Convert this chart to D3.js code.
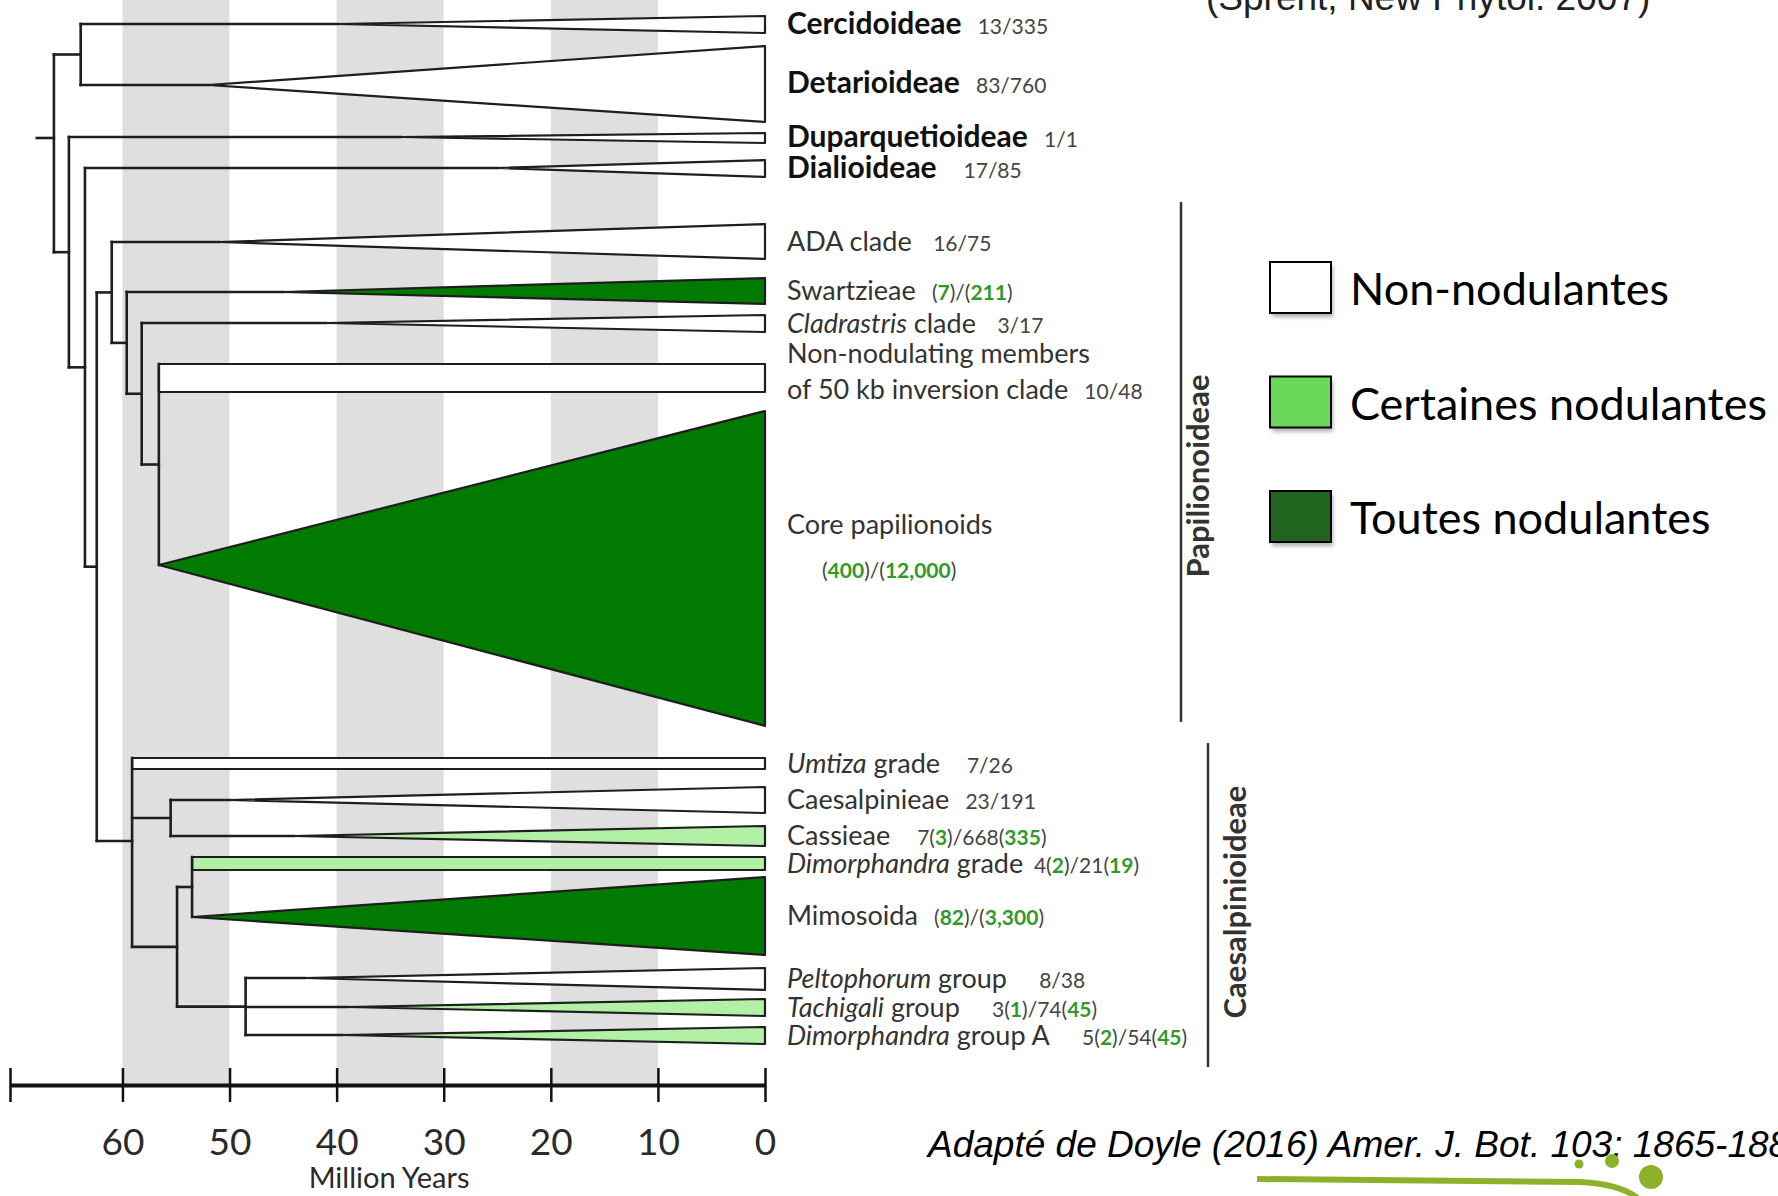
<!DOCTYPE html>
<html>
<head>
<meta charset="utf-8">
<title>Legume nodulation tree</title>
<script src="https://cdn.jsdelivr.net/npm/d3@7"></script>
<style>
  body { margin: 0; background: #fff; }
  svg { display: block; }
  text { white-space: pre; }
</style>
</head>
<body>
<script>
// --- values ---
// ages in million years, vertical values in figure units (0 = top edge, 1196 = bottom edge)
const bands = [[60, 50], [40, 30], [20, 10]];
const tickValues = [70.5, 60, 50, 40, 30, 20, 10, 0];

// internal nodes of the tree (age of the node, children ids)
const nodes = [
  { id: "root", age: 66.4, kids: ["cercDet", "n1"], stubAge: 68, stubY: 138 },
  { id: "cercDet", age: 63.9, kids: ["cerc", "detar"] },
  { id: "n1", age: 65.0, kids: ["dupar", "n2"] },
  { id: "n2", age: 63.5, kids: ["dial", "n3"] },
  { id: "n3", age: 62.4, kids: ["papil", "caes"] },
  { id: "papil", age: 61.0, kids: ["ada", "n5"] },
  { id: "n5", age: 59.6, kids: ["swartz", "n6"] },
  { id: "n6", age: 58.2, kids: ["clad", "n7"] },
  { id: "n7", age: 56.6, kids: ["nonnod", "core"] },
  { id: "caes", age: 59.1, kids: ["umtiza", "caesCass", "n8"] },
  { id: "caesCass", age: 55.5, kids: ["caesal", "cass"] },
  { id: "n8", age: 54.9, kids: ["n9", "n10"] },
  { id: "n9", age: 53.5, kids: ["dimGrade", "mimo"] },
  { id: "n10", age: 48.5, kids: ["pelto", "tachi", "dimA"] }
];

// collapsed clades: crown age, tip span (top/bottom), stem height, nodulation state
// _x_ = italic, {x} = green number
const clades = [
  { id: "cerc", name: "Cercidoideae", bold: true, count: "   13/335", crown: 40, top: 16, bottom: 33, stem: 24, state: "none" },
  { id: "detar", name: "Detarioideae", bold: true, count: "   83/760", crown: 52, top: 46, bottom: 122, stem: 85, state: "none" },
  { id: "dupar", name: "Duparquetioideae", bold: true, count: "   1/1", crown: 34, top: 133, bottom: 143, stem: 137, state: "none" },
  { id: "dial", name: "Dialioideae", bold: true, count: "     17/85", crown: 25, top: 160, bottom: 177, stem: 168, state: "none" },
  { id: "ada", name: "ADA clade", count: "    16/75", crown: 51, top: 224, bottom: 259, stem: 242, state: "none" },
  { id: "swartz", name: "Swartzieae", count: "   ({7})/({211})", crown: 45, top: 278, bottom: 304, stem: 292, state: "all" },
  { id: "clad", name: "_Cladrastris_ clade", count: "    3/17", crown: 41, top: 315, bottom: 332, stem: 323, state: "none" },
  { id: "nonnod", name: "Non-nodulating members\nof 50 kb inversion clade", count: "   10/48", shape: "rect", top: 364, bottom: 392, state: "none" },
  { id: "core", name: "Core papilionoids", count: "\n({400})/({12,000})", crown: 56.6, top: 411, bottom: 726, stem: 565, state: "all" },
  { id: "umtiza", name: "_Umtiza_ grade", count: "     7/26", shape: "rect", top: 758, bottom: 769, state: "none" },
  { id: "caesal", name: "Caesalpinieae", count: "   23/191", crown: 50, top: 787, bottom: 813, stem: 800, state: "none" },
  { id: "cass", name: "Cassieae", count: "     7({3})/668({335})", crown: 44, top: 826, bottom: 846, stem: 836, state: "some" },
  { id: "dimGrade", name: "_Dimorphandra_ grade", count: "  4({2})/21({19})", shape: "rect", top: 857, bottom: 870, state: "some" },
  { id: "mimo", name: "Mimosoida", count: "   ({82})/({3,300})", crown: 53.5, top: 877, bottom: 955, stem: 917, state: "all" },
  { id: "pelto", name: "_Peltophorum_ group", count: "      8/38", crown: 43, top: 968, bottom: 990, stem: 978, state: "none" },
  { id: "tachi", name: "_Tachigali_ group", count: "      3({1})/74({45})", crown: 39, top: 999, bottom: 1016, stem: 1007, state: "some" },
  { id: "dimA", name: "_Dimorphandra_ group A", count: "      5({2})/54({45})", crown: 39.5, top: 1027, bottom: 1044, stem: 1035, state: "some" }
];

const legendLabels = ["Non-nodulantes", "Certaines nodulantes", "Toutes nodulantes"];
const legendStates = ["none", "some", "all"];

const groupNames = ["Papilionoideae", "Caesalpinioideae"];
const groupSpans = [[202, 722], [743, 1067]];

// --- layout / styles ---
const W = 1778, H = 1196;
const axisY = 1085;
const tipFill = { none: "#ffffff", some: "#b2f0a6", all: "#007a00" };
const legendFill = { none: "#ffffff", some: "#6ad65a", all: "#20641e" };
const green = "#2f9a2a";
const labelX = 787;
const labelNudge = { core: -22, nonnod: -6 };
const groupLineX = [1181, 1208];
const groupTextX = [1209, 1246];
const groupTextY = [476, 902];

const svg = d3.select("body").append("svg").attr("width", W).attr("height", H);

const x = d3.scaleLinear().domain([70.5, 0]).range([10, 765]);
const y = d3.scaleLinear().domain([0, 1196]).range([0, 1196]);

// grey time bands
svg.append("g").selectAll("rect").data(bands).join("rect")
  .attr("x", d => x(d[0]))
  .attr("width", d => x(d[1]) - x(d[0]))
  .attr("y", 0)
  .attr("height", axisY)
  .attr("fill", "#dfdfdf");

// build the tree lookup
const byId = new Map();
clades.forEach(c => { c.leaf = true; byId.set(c.id, c); });
nodes.forEach(n => byId.set(n.id, n));
nodes.forEach(n => n.kids.forEach(k => { byId.get(k).parent = n; }));

const crownAge = c => c.shape === "rect" ? c.parent.age : c.crown;

function nodeY(id) {
  const n = byId.get(id);
  if (n.leaf) return n.shape === "rect" ? n.top : n.stem;
  if (n.yc == null) n.yc = d3.mean(n.kids, nodeY);
  return n.yc;
}

// collapsed clades
const line = d3.line();
svg.append("g").selectAll("path").data(clades).join("path")
  .attr("d", c => {
    const a = x(crownAge(c)), t = x(0);
    const pts = c.shape === "rect"
      ? [[a, y(c.top)], [t, y(c.top)], [t, y(c.bottom)], [a, y(c.bottom)]]
      : [[a, y(c.stem)], [t, y(c.top)], [t, y(c.bottom)]];
    return line(pts) + "Z";
  })
  .attr("fill", c => tipFill[c.state])
  .attr("stroke", "#1e1e1e")
  .attr("stroke-width", 2.2)
  .attr("stroke-linejoin", "round");

// branches
const br = svg.append("g")
  .attr("stroke", "#1e1e1e")
  .attr("stroke-width", 2.6)
  .attr("stroke-linecap", "square")
  .attr("fill", "none");

nodes.forEach(n => {
  const ys = n.kids.map(nodeY);
  br.append("line")
    .attr("x1", x(n.age)).attr("x2", x(n.age))
    .attr("y1", y(d3.min(ys))).attr("y2", y(d3.max(ys)));
  n.kids.forEach(k => {
    const c = byId.get(k);
    const end = c.leaf ? crownAge(c) : c.age;
    if (end === n.age) return;
    br.append("line")
      .attr("x1", x(n.age)).attr("x2", x(end))
      .attr("y1", y(nodeY(k))).attr("y2", y(nodeY(k)));
  });
  if (n.stubAge) {
    br.append("line")
      .attr("x1", x(n.stubAge)).attr("x2", x(n.age))
      .attr("y1", y(n.stubY)).attr("y2", y(n.stubY));
  }
});

// time axis
const axis = d3.axisBottom(x)
  .tickValues(tickValues)
  .tickFormat(d => d === 70.5 ? "" : d)
  .tickSizeInner(17)
  .tickSizeOuter(0);

const ax = svg.append("g").attr("transform", `translate(0,${axisY})`).call(axis);
ax.select(".domain").attr("stroke", "#111").attr("stroke-width", 4);
ax.selectAll(".tick line").attr("y1", -17).attr("y2", 17).attr("stroke", "#111").attr("stroke-width", 2.5);
ax.selectAll(".tick text")
  .attr("y", 70).attr("dy", 0)
  .attr("font-family", "Lato, sans-serif")
  .attr("font-size", 37)
  .attr("fill", "#2a2a2a");

svg.append("text")
  .attr("x", x(35.1)).attr("y", 1188)
  .attr("text-anchor", "middle")
  .attr("font-family", "Lato, sans-serif")
  .attr("font-size", 29)
  .attr("fill", "#2a2a2a")
  .text("Million Years");

// clade labels
function addRich(textSel, str, size, weight) {
  str.split(/(_[^_]+_|\{[^}]+\})/).filter(s => s).forEach(s => {
    const t = textSel.append("tspan").attr("font-size", size).attr("font-weight", weight);
    if (s[0] === "_") t.attr("font-style", "italic").text(s.slice(1, -1));
    else if (s[0] === "{") t.attr("fill", green).attr("font-weight", 700).text(s.slice(1, -1));
    else if (size < 24) t.attr("fill", "#444").text(s);
    else t.text(s);
  });
}

const labels = svg.append("g")
  .attr("font-family", "Lato, sans-serif")
  .attr("fill", "#333");

clades.forEach(c => {
  const lines = c.name.split("\n").map(s => ({ parts: [{ s, kind: "name" }], indent: 0, gap: 36 }));
  if (c.count.startsWith("\n")) {
    lines.push({ parts: [{ s: c.count.slice(1), kind: "count" }], indent: 35, gap: 44 });
  } else {
    lines[lines.length - 1].parts.push({ s: c.count, kind: "count" });
  }
  const total = d3.sum(lines.slice(1), l => l.gap);
  let base = (y(c.top) + y(c.bottom)) / 2 + 9 - total / 2 + (labelNudge[c.id] || 0);
  lines.forEach((l, i) => {
    if (i > 0) base += l.gap;
    const t = labels.append("text").attr("x", labelX + l.indent).attr("y", base);
    l.parts.forEach(p => {
      if (p.kind === "name") {
        if (c.bold) addRich(t.attr("fill", "#111"), p.s, 30, 700);
        else addRich(t, p.s, 27, 400);
      } else {
        addRich(t, p.s, 21, 400);
      }
    });
  });
});

// subfamily brackets
groupNames.forEach((g, i) => {
  const [a, b] = groupSpans[i];
  svg.append("line")
    .attr("x1", groupLineX[i]).attr("x2", groupLineX[i])
    .attr("y1", y(a)).attr("y2", y(b))
    .attr("stroke", "#333").attr("stroke-width", 2.5);
  svg.append("text")
    .attr("transform", `translate(${groupTextX[i]},${groupTextY[i]}) rotate(-90)`)
    .attr("text-anchor", "middle")
    .attr("font-family", "Lato, sans-serif")
    .attr("font-weight", 700)
    .attr("font-size", 31)
    .attr("fill", "#333")
    .text(g);
});

// legend
const defs = svg.append("defs");
defs.append("filter").attr("id", "shadow").attr("x", "-20%").attr("y", "-20%").attr("width", "150%").attr("height", "150%")
  .append("feGaussianBlur").attr("stdDeviation", 2);

const leg = svg.append("g");
legendLabels.forEach((lab, i) => {
  const top = 262 + i * 114.5;
  leg.append("rect")
    .attr("x", 1272).attr("y", top + 4).attr("width", 61).attr("height", 51)
    .attr("fill", "#777").attr("opacity", 0.6).attr("filter", "url(#shadow)");
  leg.append("rect")
    .attr("x", 1270).attr("y", top).attr("width", 61).attr("height", 51)
    .attr("fill", legendFill[legendStates[i]])
    .attr("stroke", "#000").attr("stroke-width", 2);
  leg.append("text")
    .attr("x", 1350).attr("y", top + 43)
    .attr("font-family", "Lato, sans-serif")
    .attr("font-size", 45)
    .attr("fill", "#000")
    .text(lab);
});

// source texts
svg.append("text")
  .attr("x", 1206).attr("y", 10)
  .attr("font-family", "Liberation Sans, Arial, sans-serif")
  .attr("font-size", 37)
  .attr("fill", "#222")
  .text("(Sprent, New Phytol. 2007)");

svg.append("text")
  .attr("x", 928).attr("y", 1157)
  .attr("font-family", "Liberation Sans, Arial, sans-serif")
  .attr("font-style", "italic")
  .attr("font-size", 37)
  .attr("fill", "#000")
  .text("Adapté de Doyle (2016) Amer. J. Bot. 103: 1865-1880.");

// green logo fragment, bottom right
const logo = svg.append("g").attr("fill", "#8cb22c");
logo.append("path")
  .attr("d", "M1257,1179 L1580,1182 Q1622,1184 1640,1200")
  .attr("fill", "none").attr("stroke", "#8cb22c").attr("stroke-width", 6);
[[1579, 1164, 4.5], [1612, 1161, 7], [1651, 1177, 12]].forEach(([cx, cy, r]) =>
  logo.append("circle").attr("cx", cx).attr("cy", cy).attr("r", r));
</script>
</body>
</html>
